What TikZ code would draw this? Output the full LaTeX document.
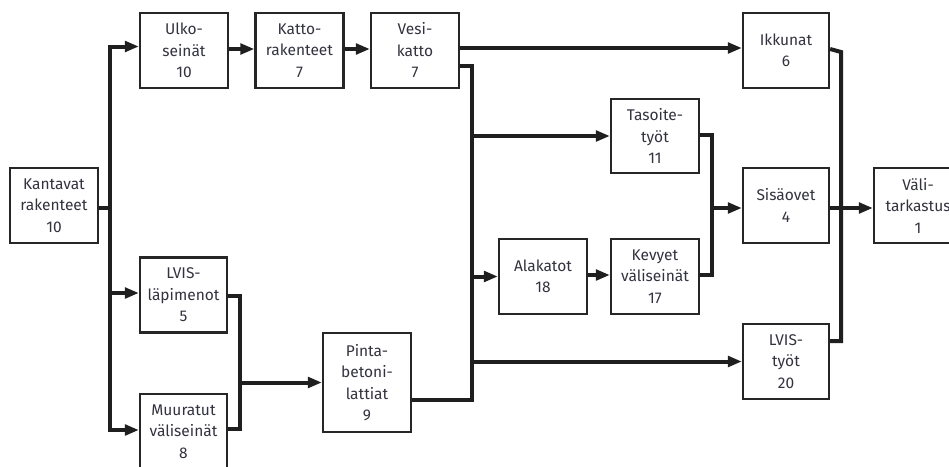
\documentclass[tikz,border=0pt]{standalone}
\usepackage{fontspec}
\setmainfont{Fira Sans}
\usetikzlibrary{arrows.meta}
\definecolor{txt}{HTML}{333340}
\begin{document}
\begin{tikzpicture}[x=1pt,y=-1pt,
  box/.style={draw=black!85, line width=2.2pt, rectangle, minimum width=88pt, minimum height=75pt,
    inner sep=0pt, align=center, text=txt, font=\fontsize{15.5}{21.5}\selectfont},
  line/.style={draw=black!88, line width=4pt, line join=miter},
  arr/.style={line, -{Triangle[length=14pt,width=10.5pt]}}]
\useasboundingbox (0,0) rectangle (949,466);
\clip (0,0) rectangle (949,466);
\fill[white] (0,0) rectangle (949,466);
% nodes
\node[box] (kan) at (54,205.5) {Kantavat\\rakenteet\\10};
\node[box] (ulk) at (184,50.5) {Ulko-\\seinät\\10};
\node[box] (kat) at (299.5,50.5) {Katto-\\rakenteet\\7};
\node[box] (ves) at (415,50.5) {Vesi-\\katto\\7};
\node[box, minimum width=87pt] (lvl) at (183.5,295) {LVIS-\\läpimenot\\5};
\node[box, minimum width=87pt] (muu) at (183.5,431.5) {Muuratut\\väliseinät\\8};
\node[box, minimum height=99pt] (pin) at (367,382.5) {Pinta-\\betoni-\\lattiat\\9};
\node[box, minimum width=86pt] (ikk) at (786,50.5) {Ikkunat\\6};
\node[box, minimum height=74pt] (tas) at (655,136) {Tasoite-\\työt\\11};
\node[box, minimum width=86pt] (sis) at (786,205.5) {Sisäovet\\4};
\node[box] (ala) at (543,276.5) {Alakatot\\18};
\node[box] (kev) at (655,276.5) {Kevyet\\väliseinät\\17};
\node[box, minimum width=86pt] (lvt) at (786,361.5) {LVIS-\\työt\\20};
\node[box] (val) at (918,205.5) {Väli-\\tarkastus\\1};
% junction coordinates
\coordinate (b1) at (110,208);
\coordinate (b2t) at (472,66);
\coordinate (b2b) at (472,400);
\coordinate (m) at (240,382.5);
\coordinate (j) at (712,208);
\coordinate (k) at (841,52);
% bus from Kantavat rakenteet
\draw[line] (kan.east |- b1) -- (b1);
\draw[arr] (b1) |- ([yshift=4]ulk.west);
\draw[arr] (b1) |- ([yshift=2]lvl.west);
\draw[arr] (b1) |- ([yshift=1.5]muu.west);
% top chain
\draw[arr] ([yshift=1.5]ulk.east) -- ([yshift=1.5]kat.west);
\draw[arr] ([yshift=1.5]kat.east) -- ([yshift=1.5]ves.west);
\draw[arr] ([yshift=2.5]ves.east) -- ([yshift=2.5]ikk.west);
% second bus
\draw[line] (ves.east |- b2t) -- (b2t) -- (b2b) -- (pin.east |- b2b);
\draw[arr] (b2t |- tas.west) -- (tas.west);
\draw[arr] (b2t |- ala.west) -- (ala.west);
\draw[arr] (b2t |- lvt.west) -- (lvt.west);
% LVIS-läpimenot + Muuratut -> Pinta
\draw[line] ([yshift=-1]lvl.east) -- ([yshift=-1]lvl.east -| m) -- ([yshift=2.5]muu.east -| m) -- ([yshift=2.5]muu.east);
\draw[arr] (m) -- (pin.west);
% Alakatot -> Kevyet
\draw[arr] ([yshift=1.5]ala.east) -- ([yshift=1.5]kev.west);
% Tasoite + Kevyet -> Sisäovet
\draw[line] ([yshift=1]tas.east) -- ([yshift=1]tas.east -| j) -- ([yshift=1.5]kev.east -| j) -- ([yshift=1.5]kev.east);
\draw[arr] (j) -- (sis.west |- j);
% Ikkunat + LVIS-työt + Sisäovet -> Välitarkastus
\draw[line] ([yshift=1.5]ikk.east) -- (k) -- ([yshift=20.5]lvt.east -| k) -- ([yshift=20.5]lvt.east);
\draw[arr] (sis.east |- j) -- (val.west |- j);
\end{tikzpicture}
\end{document}
